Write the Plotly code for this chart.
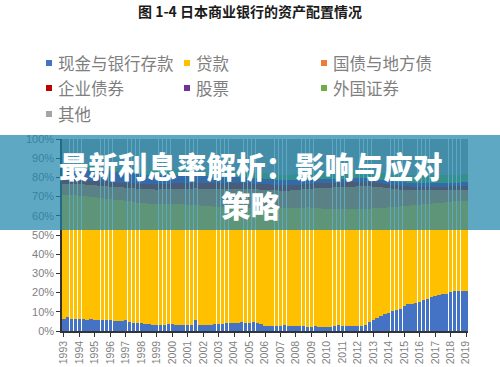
import plotly.graph_objects as go

# ---------------- data ----------------
years = list(range(1993, 2020))
quarters = [f"{y}Q{q}" for y in years for q in range(1, 5)][:105]
tick_vals = [f"{y}Q1" for y in years]
tick_text = [str(y) for y in years]

series_names = ["现金与银行存款", "贷款", "国债与地方债", "企业债券", "股票", "外国证券", "其他"]
series_colors = ["#4472C4", "#FFC000", "#ED7D31", "#C00000", "#7030A0", "#70AD47", "#A5A5A5"]

cash = [
    6.5, 7.2, 6.2, 6.4,  6.3, 6.0, 5.9, 6.0,  5.8, 5.7, 5.6, 5.6,  5.5, 5.3, 5.2, 5.4,
    5.5, 4.8, 4.4, 4.3,  4.0, 3.7, 3.4, 3.2,  3.1, 3.0, 3.2, 3.6,  3.4, 3.2, 3.1, 3.3,
    3.0, 3.2, 5.6, 3.1,  3.0, 2.9, 3.1, 3.4,  3.6, 3.9, 4.1, 4.0,  4.2, 4.3, 4.5, 4.4,
    4.3, 4.6, 4.2, 3.6,  2.8, 2.5, 2.4, 2.5,  2.7, 2.9, 2.8, 2.6,  2.5, 2.7, 2.4, 2.3,
    2.2, 2.4, 2.3, 2.2,  2.1, 2.3, 2.6, 2.9,  2.8, 2.5, 2.7, 2.6,  2.4, 2.6, 3.2, 4.5,
    5.6, 6.8, 7.9, 8.6,  9.4, 10.2, 10.8, 11.6,  12.8, 13.9, 14.3, 14.6,
    15.2, 16.0, 16.8, 17.6,  18.4, 19.0, 19.3, 19.5,  20.2, 20.6, 20.7, 20.8,  21.0]

loans = [
    64.3, 63.6, 64.5, 64.2,  64.1, 64.3, 64.2, 63.9,  63.8, 63.7, 63.6, 63.4,  63.2, 63.1, 62.9, 62.6,
    62.3, 62.8, 62.9, 62.6,  62.7, 62.9, 63.0, 63.1,  63.0, 63.2, 62.8, 62.4,  62.6, 62.8, 62.9, 62.6,
    62.8, 62.4, 60.1, 62.3,  62.2, 62.1, 61.8, 61.4,  61.0, 60.6, 60.3, 60.4,  60.1, 60.0, 59.7, 59.9,
    60.0, 59.6, 60.1, 60.7,  61.6, 61.9, 62.0, 61.9,  61.6, 61.3, 61.4, 61.6,  61.8, 61.5, 61.9, 62.1,
    62.0, 61.7, 61.6, 61.6,  61.6, 61.3, 61.0, 60.6,  60.7, 61.0, 60.8, 60.9,  61.1, 60.9, 60.4, 59.2,
    58.3, 57.2, 56.3, 55.7,  55.1, 54.4, 54.0, 53.3,  52.3, 51.4, 51.2, 51.0,
    50.6, 50.0, 49.4, 48.8,  48.2, 47.8, 47.6, 47.5,  47.2, 46.9, 46.9, 46.9,  46.8]

gov_bonds = [
    5.6, 5.7, 5.8, 5.9,  6.0, 6.1, 6.1, 6.2,  6.3, 6.3, 6.4, 6.5,  6.5, 6.6, 6.7, 6.8,
    6.9, 7.0, 7.0, 7.1,  7.2, 7.3, 7.4, 7.5,  7.6, 7.7, 7.8, 7.9,  8.0, 8.1, 8.2, 8.3,
    8.4, 8.5, 8.6, 8.7,  8.8, 9.0, 9.1, 9.2,  9.4, 9.5, 9.6, 9.7,  9.8, 9.8, 9.9, 9.8,
    9.7, 9.6, 9.5, 9.4,  9.2, 9.1, 9.0, 8.9,  8.8, 8.8, 8.9, 9.0,  9.1, 9.3, 9.5, 9.7,
    10.0, 10.2, 10.4, 10.6,  10.8, 11.0, 11.2, 11.3,  11.4, 11.5, 11.6, 11.7,  11.8, 11.9, 11.8, 11.6,
    11.3, 11.0, 10.6, 10.2,  9.8, 9.4, 9.0, 8.6,  8.3, 8.0, 7.8, 7.6,
    7.4, 7.2, 7.0, 6.8,  6.6, 6.5, 6.4, 6.3,  6.2, 6.1, 6.0, 6.0,  5.9]

corp_bonds = [
    2.0, 2.0, 2.1, 2.1,  2.1, 2.2, 2.2, 2.2,  2.3, 2.3, 2.3, 2.4,  2.4, 2.4, 2.5, 2.5,
    2.5, 2.6, 2.6, 2.6,  2.7, 2.7, 2.7, 2.8,  2.8, 2.8, 2.9, 2.9,  2.9, 3.0, 3.0, 3.0,
    3.0, 3.1, 3.1, 3.1,  3.1, 3.1, 3.1, 3.2,  3.2, 3.2, 3.2, 3.2,  3.2, 3.1, 3.1, 3.1,
    3.0, 3.0, 3.0, 2.9,  2.9, 2.9, 2.8, 2.8,  2.8, 2.8, 2.7, 2.7,  2.7, 2.7, 2.7, 2.6,
    2.6, 2.6, 2.6, 2.5,  2.5, 2.5, 2.5, 2.4,  2.4, 2.4, 2.4, 2.3,  2.3, 2.3, 2.3, 2.2,
    2.2, 2.2, 2.1, 2.1,  2.1, 2.1, 2.0, 2.0,  2.0, 2.0, 1.9, 1.9,
    1.9, 1.9, 1.8, 1.8,  1.8, 1.8, 1.8, 1.7,  1.7, 1.7, 1.7, 1.7,  1.7]

stocks = [
    6.3, 6.2, 6.2, 6.1,  6.1, 6.0, 6.0, 5.9,  5.9, 5.8, 5.8, 5.7,  5.7, 5.6, 5.6, 5.5,
    5.4, 5.3, 5.2, 5.1,  5.0, 4.9, 4.8, 4.7,  4.7, 4.6, 4.6, 4.5,  4.5, 4.4, 4.3, 4.2,
    4.1, 4.0, 3.8, 3.7,  3.5, 3.4, 3.3, 3.2,  3.1, 3.0, 3.0, 3.0,  3.0, 3.0, 2.9, 2.9,
    2.9, 2.9, 2.9, 2.9,  2.9, 2.8, 2.8, 2.8,  2.7, 2.7, 2.6, 2.6,  2.5, 2.4, 2.3, 2.2,
    2.2, 2.2, 2.2, 2.2,  2.2, 2.1, 2.1, 2.1,  2.1, 2.0, 2.0, 2.0,  2.0, 2.0, 2.0, 2.0,
    2.0, 2.0, 2.0, 2.0,  2.0, 2.0, 2.0, 2.0,  2.0, 2.0, 2.0, 2.0,
    2.0, 2.0, 2.0, 2.0,  2.0, 2.0, 2.0, 2.0,  2.0, 2.0, 2.0, 2.0,  2.0]

foreign = [
    1.5, 1.5, 1.5, 1.6,  1.6, 1.6, 1.6, 1.6,  1.7, 1.7, 1.7, 1.7,  1.8, 1.8, 1.8, 1.8,
    1.9, 1.9, 1.9, 1.9,  2.0, 2.0, 2.0, 2.0,  2.1, 2.1, 2.1, 2.1,  2.2, 2.2, 2.2, 2.2,
    2.3, 2.3, 2.3, 2.3,  2.4, 2.4, 2.4, 2.4,  2.5, 2.5, 2.5, 2.5,  2.6, 2.6, 2.6, 2.6,
    2.7, 2.7, 2.7, 2.7,  2.8, 2.8, 2.8, 2.8,  2.9, 2.9, 2.9, 2.9,  3.0, 3.0, 3.0, 3.0,
    3.1, 3.1, 3.1, 3.1,  3.2, 3.2, 3.2, 3.2,  3.3, 3.3, 3.3, 3.3,  3.4, 3.4, 3.4, 3.5,
    3.5, 3.5, 3.6, 3.6,  3.6, 3.7, 3.7, 3.7,  3.8, 3.8, 3.8, 3.9,
    3.9, 3.9, 4.0, 4.0,  4.0, 4.1, 4.1, 4.1,  4.2, 4.2, 4.2, 4.3,  4.3]

other = [
    13.8, 13.8, 13.7, 13.7,  13.8, 13.8, 14.0, 14.2,  14.2, 14.5, 14.6, 14.7,  14.9, 15.2, 15.3, 15.4,
    15.5, 15.6, 16.0, 16.4,  16.4, 16.5, 16.7, 16.7,  16.7, 16.6, 16.6, 16.6,  16.4, 16.3, 16.3, 16.4,
    16.4, 16.5, 16.5, 16.8,  17.0, 17.1, 17.2, 17.2,  17.2, 17.3, 17.3, 17.2,  17.1, 17.2, 17.3, 17.3,
    17.4, 17.6, 17.6, 17.8,  17.8, 18.0, 18.2, 18.3,  18.5, 18.6, 18.7, 18.6,  18.4, 18.4, 18.2, 18.1,
    17.9, 17.8, 17.8, 17.8,  17.6, 17.6, 17.4, 17.5,  17.3, 17.3, 17.2, 17.2,  17.0, 16.9, 16.9, 17.0,
    17.1, 17.3, 17.5, 17.8,  18.0, 18.2, 18.5, 18.8,  18.8, 18.9, 19.0, 19.0,
    19.0, 19.0, 19.0, 19.0,  19.0, 18.8, 18.8, 18.9,  18.5, 18.5, 18.5, 18.3,  18.3]

y_tick_vals = [0, 10, 20, 30, 40, 50, 60, 70, 80, 90, 100]
y_tick_text = [f"{v}%" for v in y_tick_vals]

title_text = "图 1-4 日本商业银行的资产配置情况"
banner_lines = ["最新利息率解析：影响与应对", "策略"]

# ---------------- layout geometry ----------------
W_FIG, H_FIG = 500, 367
L, R, T, B = 62, 32, 139, 36
PW = W_FIG - L - R
PH = H_FIG - T - B


def px_x(px):
    return (px - L) / PW


def px_y(py):
    return (H_FIG - B - py) / PH


CJK = "Noto Sans CJK SC"
LAT = "Liberation Sans, Arial, sans-serif"

fig = go.Figure()
all_series = [cash, loans, gov_bonds, corp_bonds, stocks, foreign, other]
for name, color, vals in zip(series_names, series_colors, all_series):
    fig.add_trace(go.Bar(x=quarters, y=vals, name=name,
                         marker=dict(color=color, line=dict(width=0))))

fig.update_layout(
    width=W_FIG, height=H_FIG,
    margin=dict(l=L, r=R, t=T, b=B, pad=0),
    barmode="stack", barnorm="percent", bargap=0.15,
    paper_bgcolor="white", plot_bgcolor="white",
    showlegend=False,
    title=dict(text="<b>" + title_text + "</b>", x=0.5, xref="container", xanchor="center",
               y=1 - 12 / H_FIG, yref="container", yanchor="middle",
               font=dict(family=CJK, size=14, color="#1a1a1a")),
)

fig.update_xaxes(
    type="category", range=[-0.5, len(quarters) - 0.5],
    tickmode="array", tickvals=tick_vals, ticktext=tick_text,
    tickangle=-90, ticks="outside", ticklen=4, tickwidth=1.2, tickcolor="#333333",
    showline=True, linecolor="#333333", linewidth=1.5,
    showgrid=False, zeroline=False, automargin=False,
    tickfont=dict(family=LAT, size=10.5, color="#7f7f7f"),
)
fig.update_yaxes(
    range=[0, 100], tickmode="array", tickvals=y_tick_vals, ticktext=y_tick_text,
    ticks="outside", ticklen=4, tickwidth=1.2, tickcolor="#333333",
    showline=True, linecolor="#333333", linewidth=1.5,
    showgrid=False, zeroline=False, automargin=False,
    tickfont=dict(family=LAT, size=11, color="#7f7f7f"),
)

# ---------------- legend (drawn as annotations + squares) ----------------
legend_cols = [49, 187, 324]
legend_rows = [63, 88, 114]
shapes = []
annotations = []
for i, (name, color) in enumerate(zip(series_names, series_colors)):
    cx = legend_cols[i % 3]
    cy = legend_rows[i // 3]
    shapes.append(dict(type="rect", xref="paper", yref="paper",
                       x0=px_x(cx - 3), x1=px_x(cx + 3), y0=px_y(cy + 3), y1=px_y(cy - 3),
                       fillcolor=color, line=dict(width=0), layer="above"))
    annotations.append(dict(text=name, xref="paper", yref="paper",
                            x=px_x(cx + 7), y=px_y(cy), xanchor="left", yanchor="middle",
                            showarrow=False,
                            font=dict(family=CJK, size=16.5, color="#7f7f7f")))

# ---------------- banner overlay ----------------
shapes.append(dict(type="rect", xref="paper", yref="paper",
                   x0=px_x(0), x1=px_x(W_FIG), y0=px_y(230), y1=px_y(135),
                   fillcolor="rgba(26,131,171,0.70)", line=dict(width=0), layer="above"))
for line_text, cy in zip(banner_lines, [165, 204]):
    annotations.append(dict(text=line_text, xref="paper", yref="paper",
                            x=px_x(251), y=px_y(cy), xanchor="center", yanchor="middle",
                            showarrow=False,
                            font=dict(family=CJK, size=29.5, color="white", weight=900)))

fig.update_layout(shapes=shapes, annotations=annotations)

fig.write_html(
    "out.html",
    config={"displayModeBar": False},
    post_script="document.body.style.margin='0';document.body.style.padding='0';",
)
